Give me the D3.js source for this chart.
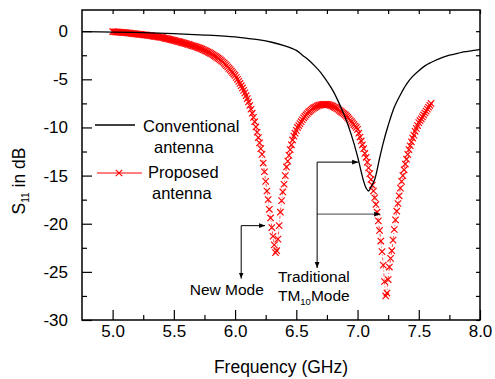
<!DOCTYPE html>
<html>
<head>
<meta charset="utf-8">
<script src="https://cdn.jsdelivr.net/npm/d3@7"></script>
<style>
  body { margin: 0; background: #fff; }
  svg { display: block; font-family: "Liberation Sans", Arial, sans-serif; }
</style>
</head>
<body>
<svg id="chart" width="495" height="379"></svg>
<script>
// conventional antenna (black solid)
const convFreq = [4.75, 5.0, 5.25, 5.5, 5.75, 6.0, 6.1, 6.2, 6.3, 6.4, 6.5, 6.55, 6.6, 6.65, 6.7, 6.75,
  6.8, 6.85, 6.9, 6.95, 7.0, 7.03, 7.05, 7.07, 7.09, 7.11, 7.14, 7.18, 7.21, 7.25, 7.3, 7.35,
  7.4, 7.45, 7.5, 7.55, 7.6, 7.65, 7.7, 7.75, 7.8, 7.85, 7.9, 7.95, 8.0];
const convS11 = [-0.05, -0.1, -0.15, -0.25, -0.4, -0.6, -0.75, -0.9, -1.15, -1.5, -2.0, -2.5, -3.0, -3.6, -4.3, -5.2,
  -6.2, -7.5, -9.0, -10.8, -13.0, -14.6, -15.6, -16.3, -16.6, -16.2, -15.4, -13.2, -11.6, -9.8, -7.9, -6.6,
  -5.5, -4.7, -4.1, -3.6, -3.25, -2.95, -2.7, -2.5, -2.35, -2.2, -2.1, -2.0, -1.9];

// proposed antenna (red x markers), one value per 0.01 GHz from 5.00 to 7.60
const propStart = 5.0;
const propStep = 0.01;
const propS11 = [
  -0.05, -0.06, -0.07, -0.08, -0.09, -0.10, -0.11, -0.12, -0.13, -0.14,
  -0.15, -0.16, -0.18, -0.19, -0.21, -0.22, -0.24, -0.25, -0.27, -0.28,
  -0.30, -0.31, -0.33, -0.34, -0.36, -0.37, -0.39, -0.40, -0.42, -0.43,
  -0.45, -0.47, -0.49, -0.51, -0.53, -0.55, -0.57, -0.59, -0.61, -0.63,
  -0.65, -0.68, -0.71, -0.74, -0.77, -0.80, -0.83, -0.86, -0.89, -0.92,
  -0.95, -0.98, -1.02, -1.05, -1.09, -1.12, -1.16, -1.19, -1.23, -1.26,
  -1.30, -1.34, -1.38, -1.42, -1.46, -1.50, -1.54, -1.58, -1.62, -1.66,
  -1.70, -1.75, -1.81, -1.86, -1.92, -1.98, -2.04, -2.10, -2.17, -2.23,
  -2.30, -2.37, -2.45, -2.53, -2.61, -2.70, -2.79, -2.88, -2.98, -3.08,
  -3.20, -3.32, -3.45, -3.58, -3.72, -3.86, -4.00, -4.15, -4.30, -4.45,
  -4.60, -4.80, -5.00, -5.21, -5.43, -5.66, -5.90, -6.15, -6.41, -6.70,
  -7.00, -7.35, -7.72, -8.11, -8.52, -8.95, -9.40, -9.95, -10.5, -11.05,
  -11.6, -12.2, -12.8, -13.7, -14.6, -15.6, -16.6, -17.5, -18.5, -19.4,
  -20.4, -21.3, -22.2, -23.0, -22.8, -21.6, -20.2, -18.8, -17.6, -16.7,
  -15.9, -15.0, -14.1, -13.5, -12.9, -12.3, -11.8, -11.3, -10.9, -10.6,
  -10.3, -10.0, -9.8, -9.6, -9.4, -9.2, -9.0, -8.85, -8.7, -8.55,
  -8.4, -8.3, -8.2, -8.1, -8.0, -7.92, -7.85, -7.78, -7.72, -7.68,
  -7.65, -7.62, -7.6, -7.6, -7.6, -7.6, -7.62, -7.65, -7.7, -7.75,
  -7.8, -7.88, -7.95, -8.03, -8.1, -8.2, -8.3, -8.4, -8.5, -8.6,
  -8.7, -8.83, -8.96, -9.1, -9.25, -9.4, -9.55, -9.7, -9.85, -10.0,
  -10.2, -10.6, -11.0, -11.4, -11.8, -12.2, -12.7, -13.1, -13.6, -14.2,
  -14.8, -15.4, -16.0, -16.6, -17.3, -18.0, -18.8, -19.7, -20.7, -21.8,
  -22.9, -24.3, -26.0, -27.5, -27.2, -25.8, -24.5, -23.6, -22.8, -21.7,
  -20.6, -19.6, -18.7, -17.9, -17.1, -16.3, -15.6, -15.0, -14.4, -13.8,
  -13.3, -12.8, -12.3, -11.9, -11.5, -11.1, -10.8, -10.4, -10.1, -9.8,
  -9.5, -9.3, -9.1, -8.9, -8.7, -8.5, -8.3, -8.1, -7.9, -7.7,
  -7.5
];

const xTicks = [5.0, 5.5, 6.0, 6.5, 7.0, 7.5, 8.0];
const xMinor = [5.25, 5.75, 6.25, 6.75, 7.25, 7.75];
const yTicks = [0, -5, -10, -15, -20, -25, -30];
const yMinor = [-2.5, -7.5, -12.5, -17.5, -22.5, -27.5];

const svg = d3.select('#chart');
const margin = { top: 10, right: 15, bottom: 59, left: 82 };
const width = 495, height = 379;
const innerW = width - margin.left - margin.right;
const innerH = height - margin.top - margin.bottom;

const x = d3.scaleLinear().domain([4.75, 8.0]).range([0, innerW]);
const y = d3.scaleLinear().domain([-30, 2.2]).range([innerH, 0]);

const g = svg.append('g').attr('transform', `translate(${margin.left},${margin.top})`);

// frame
g.append('rect').attr('width', innerW).attr('height', innerH)
  .attr('fill', 'none').attr('stroke', '#000').attr('stroke-width', 1.5);

function styleAxis(sel) {
  sel.select('.domain').remove();
  sel.selectAll('line').attr('stroke', '#000').attr('stroke-width', 1.2);
  sel.selectAll('text').attr('fill', '#000').attr('font-size', 17);
}

g.append('g').attr('transform', `translate(0,${innerH})`)
  .call(d3.axisBottom(x).tickValues(xTicks).tickSize(-10).tickPadding(5).tickFormat(d3.format('.1f')))
  .call(styleAxis);
g.append('g').attr('transform', `translate(0,${innerH})`)
  .call(d3.axisBottom(x).tickValues(xMinor).tickSize(-5).tickFormat(''))
  .call(styleAxis);
g.append('g')
  .call(d3.axisLeft(y).tickValues(yTicks).tickSize(-10).tickPadding(14).tickFormat(d => String(d)))
  .call(styleAxis);
g.append('g')
  .call(d3.axisLeft(y).tickValues(yMinor).tickSize(-5).tickFormat(''))
  .call(styleAxis);
// top and right: short inward ticks
g.append('g')
  .call(d3.axisTop(x).tickValues(xTicks.concat(xMinor)).tickSize(-4).tickFormat(''))
  .call(styleAxis);
g.append('g').attr('transform', `translate(${innerW},0)`)
  .call(d3.axisRight(y).tickValues(yTicks.concat(yMinor)).tickSize(-4).tickFormat(''))
  .call(styleAxis);

// curves
const conv = convFreq.map((f, i) => ({ f, s: convS11[i] }));
const prop = propS11.map((s, i) => ({ f: propStart + i * propStep, s }));

const plot = g.append('g');

plot.append('path').datum(prop)
  .attr('fill', 'none').attr('stroke', 'red').attr('stroke-width', 0.7)
  .attr('stroke-dasharray', '3,2,1,2')
  .attr('d', d3.line().x(d => x(d.f)).y(d => y(d.s)));

const cross = 'M-3.2,-3.2L3.2,3.2M-3.2,3.2L3.2,-3.2';
plot.selectAll('.mk').data(prop).join('path')
  .attr('class', 'mk')
  .attr('transform', d => `translate(${x(d.f)},${y(d.s)})`)
  .attr('d', cross).attr('fill', 'none').attr('stroke', '#ff0000').attr('stroke-width', 1.15);

plot.append('path').datum(conv)
  .attr('fill', 'none').attr('stroke', '#000').attr('stroke-width', 1.3)
  .attr('d', d3.line().curve(d3.curveCatmullRom).x(d => x(d.f)).y(d => y(d.s)));

// axis titles
svg.append('text')
  .attr('x', margin.left + innerW / 2).attr('y', 373)
  .attr('text-anchor', 'middle').attr('font-size', 17.5)
  .text('Frequency (GHz)');

const yl = svg.append('text')
  .attr('transform', 'translate(25,181) rotate(-90)')
  .attr('text-anchor', 'middle').attr('font-size', 17.5);
yl.append('tspan').text('S');
yl.append('tspan').attr('font-size', 10).attr('dy', 4).text('11');
yl.append('tspan').attr('dy', -4).text(' in dB');

// legend
const lg = svg.append('g').attr('font-size', 16.5);
lg.append('line').attr('x1', 95).attr('x2', 135).attr('y1', 125).attr('y2', 125)
  .attr('stroke', '#000').attr('stroke-width', 1.3);
lg.append('text').attr('x', 143).attr('y', 132).text('Conventional');
lg.append('text').attr('x', 154).attr('y', 153).text('antenna');
lg.append('line').attr('x1', 97).attr('x2', 142).attr('y1', 173).attr('y2', 173)
  .attr('stroke', 'red').attr('stroke-width', 1);
lg.append('path').attr('d', cross).attr('transform', 'translate(119,173)')
  .attr('fill', 'none').attr('stroke', 'red').attr('stroke-width', 1.2);
lg.append('text').attr('x', 148).attr('y', 178).text('Proposed');
lg.append('text').attr('x', 152).attr('y', 199).text('antenna');

// annotations
const defs = svg.append('defs');
defs.append('marker').attr('id', 'ah').attr('viewBox', '0 0 10 10')
  .attr('refX', 10).attr('refY', 5).attr('markerWidth', 6).attr('markerHeight', 6)
  .attr('markerUnits', 'userSpaceOnUse').attr('orient', 'auto')
  .append('path').attr('d', 'M0,1L10,5L0,9Z').attr('fill', '#000');

const ann = g.append('g').attr('fill', 'none').attr('stroke', '#000').attr('stroke-width', 1);
function arrow(x1, y1, x2, y2, col) {
  ann.append('line')
    .attr('x1', x(x1)).attr('y1', y(y1)).attr('x2', x(x2)).attr('y2', y(y2))
    .attr('stroke', col || '#000')
    .attr('marker-end', 'url(#ah)');
}
// new mode
arrow(6.05, -20.2, 6.245, -20.2);
arrow(6.05, -20.2, 6.05, -25.7);
// traditional TM10 mode
arrow(6.67, -13.6, 7.005, -13.6);
arrow(6.67, -19.0, 7.185, -19.0, '#444');
arrow(6.67, -13.6, 6.67, -24.6);

const at = g.append('g').attr('font-size', 15.5).attr('fill', '#000');
at.append('text').attr('x', x(5.63)).attr('y', y(-27.4)).text('New Mode');
at.append('text').attr('x', x(6.35)).attr('y', y(-26.1)).text('Traditional');
const tm = at.append('text').attr('x', x(6.35)).attr('y', y(-28.0));
tm.append('tspan').text('TM');
tm.append('tspan').attr('font-size', 9.5).attr('dy', 4).text('10');
tm.append('tspan').attr('dy', -4).text('Mode');
</script>
</body>
</html>
